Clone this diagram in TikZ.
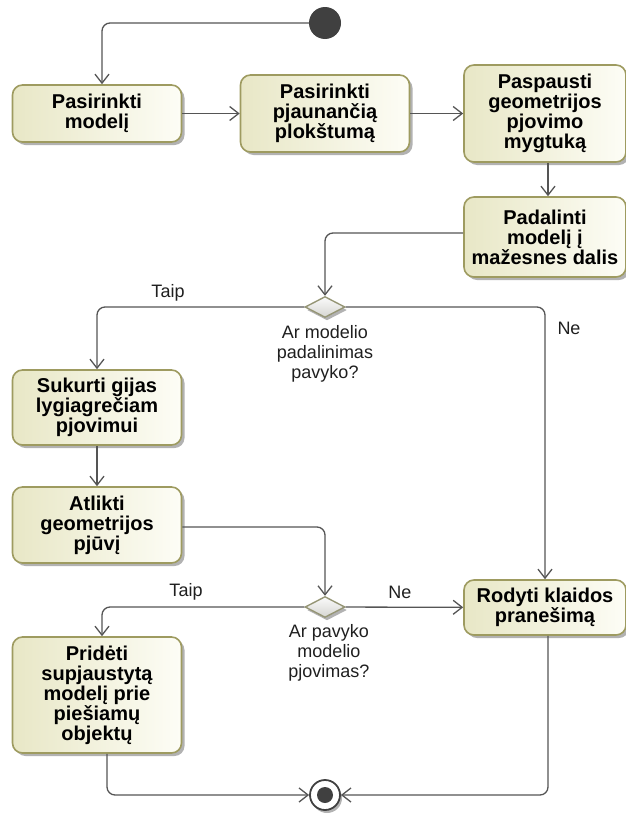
\documentclass[tikz,border=0pt]{standalone}
\usepackage{fontspec}
\setmainfont{Liberation Sans}
\usetikzlibrary{arrows.meta,shapes.geometric,shadows,calc}
\definecolor{actfillA}{RGB}{232,231,198}
\definecolor{actfillB}{RGB}{253,253,246}
\definecolor{actedge}{RGB}{158,155,96}
\definecolor{flowc}{RGB}{85,85,85}
\definecolor{nodedark}{RGB}{64,64,64}
\definecolor{decA}{RGB}{214,214,210}
\definecolor{decB}{RGB}{250,250,250}
\definecolor{decedge}{RGB}{150,150,118}
\begin{document}
\begin{tikzpicture}[x=1pt,y=-1pt,
  act/.style={draw=actedge, line width=1.6pt, rounded corners=10pt,
    left color=actfillA, right color=actfillB, align=center, inner sep=0pt,
    font=\bfseries\fontsize{20}{20}\selectfont,
    drop shadow={shadow xshift=3pt, shadow yshift=-3pt, opacity=0.3, fill=black}},
  decision/.style={diamond, aspect=2, draw=decedge, line width=1.4pt,
    top color=decB, bottom color=decA, minimum width=40pt, minimum height=21pt,
    inner sep=0pt,
    drop shadow={shadow xshift=2pt, shadow yshift=-3pt, opacity=0.3, fill=black}},
  lbl/.style={font=\fontsize{18}{20}\selectfont, align=center, inner sep=0pt, text=black!88},
  flow/.style={draw=flowc, line width=1.3pt, rounded corners=8pt,
    -{Straight Barb[length=9pt,width=14pt,line width=1.3pt]}}
]
\useasboundingbox (0,0) rectangle (626,814);

% start and end
\node[circle, fill=nodedark, minimum size=32pt, inner sep=0pt] (init) at (325,23) {};
\node[circle, draw=nodedark, line width=1.8pt, fill=white, minimum size=30pt, inner sep=0pt,
  drop shadow={shadow xshift=2pt, shadow yshift=-3pt, opacity=0.3, fill=black}] (final) at (325,795) {};
\fill[nodedark] (final.center) circle (8pt);

% actions
\node[act, minimum width=169pt, minimum height=57pt] (box1) at (97,113.5) {Pasirinkti\\modelį};
\node[act, minimum width=169pt, minimum height=77pt] (box2) at (325,113.5) {Pasirinkti\\pjaunančią\\plokštumą};
\node[act, minimum width=162pt, minimum height=97pt] (box3) at (545,113.5) {Paspausti\\geometrijos\\pjovimo\\mygtuką};
\node[act, minimum width=162pt, minimum height=80pt] (box4) at (545,237) {Padalinti\\modelį į\\mažesnes dalis};
\node[act, minimum width=169pt, minimum height=75pt] (box5) at (97,407.5) {Sukurti gijas\\lygiagrečiam\\pjovimui};
\node[act, minimum width=169pt, minimum height=76pt] (box6) at (97,525) {Atlikti\\geometrijos\\pjūvį};
\node[act, minimum width=169pt, minimum height=116pt] (box7) at (97,695) {Pridėti\\supjaustytą\\modelį prie\\piešiamų\\objektų};
\node[act, minimum width=162pt, minimum height=55pt] (box8) at (545,607.5) {Rodyti klaidos\\pranešimą};

% decisions
\node[decision] (d1) at (325,307) {};
\node[decision] (d2) at (325,607) {};
\node[lbl, anchor=north] (d1lbl) at (325,325) {Ar modelio\\padalinimas\\pavyko?};
\node[lbl, anchor=north] (d2lbl) at (329,624) {Ar pavyko\\modelio\\pjovimas?};

% guards
\node[lbl] (t1) at (168,293) {Taip};
\node[lbl] (n1) at (569,328) {Ne};
\node[lbl] (t2) at (186,592) {Taip};
\node[lbl] (n2) at (400,592) {Ne};

% flows
\draw[flow] (init.west) -| ([xshift=5pt]box1.north);
\draw[flow] (box1) -- (box2);
\draw[flow] (box2) -- (box3);
\draw[flow] ([xshift=3pt]box3.south) -- ([xshift=3pt]box4.north);
\draw[flow] ([yshift=4pt]box4.west) -| (d1.north);
\draw[flow] (d1.west) -| (box5.north);
\draw[flow] (d1.east) -| (box8.north);
\draw[flow] (box5) -- (box6);
\draw[flow] ([yshift=-2pt]box6.east) -| (d2.north);
\draw[flow] (d2.west) -| ([xshift=5pt]box7.north);
\draw[flow] (d2) -- (box8);
\draw[flow] ([xshift=10pt]box7.south) |- (final.west);
\draw[flow] ([xshift=3pt]box8.south) |- (final.east);
\end{tikzpicture}
\end{document}
